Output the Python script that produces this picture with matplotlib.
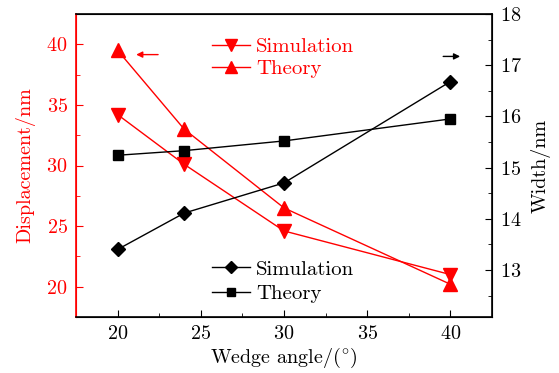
import matplotlib
matplotlib.use("Agg")
import matplotlib.pyplot as plt
from matplotlib.ticker import MultipleLocator

plt.rcParams['font.family'] = 'serif'
plt.rcParams['font.serif'] = ['cmr10', 'DejaVu Serif']
plt.rcParams['mathtext.fontset'] = 'cm'
plt.rcParams['axes.formatter.use_mathtext'] = True

# wedge angle (deg)
angles = [20, 24, 30, 40]

# displacement (nm), left axis
disp_sim = [34.2, 30.1, 24.6, 21.0]
disp_theory = [39.5, 33.0, 26.5, 20.2]

# width (nm), right axis
width_sim = [13.40, 14.11, 14.70, 16.68]
width_theory = [15.24, 15.33, 15.52, 15.95]

red = '#ff0000'
fs = 14.5

fig = plt.figure(figsize=(5.59, 3.73), dpi=100)
ax = fig.add_axes([76 / 559, 1 - 317 / 373, 416 / 559, 303 / 373])
ax2 = ax.twinx()

l1, = ax.plot(angles, disp_sim, color=red, lw=1, marker='v', ms=10)
l2, = ax.plot(angles, disp_theory, color=red, lw=1, marker='^', ms=10)
l3, = ax2.plot(angles, width_sim, color='k', lw=1, marker='D', ms=7.5)
l4, = ax2.plot(angles, width_theory, color='k', lw=1, marker='s', ms=7.5)

ax.set_xlim(17.5, 42.5)
ax.set_ylim(17.5, 42.5)
ax2.set_ylim(12.08, 18)

ax.xaxis.set_major_locator(MultipleLocator(5))
ax.xaxis.set_minor_locator(MultipleLocator(2.5))
ax.yaxis.set_major_locator(MultipleLocator(5))
ax.yaxis.set_minor_locator(MultipleLocator(2.5))
ax2.yaxis.set_major_locator(MultipleLocator(1))
ax2.yaxis.set_minor_locator(MultipleLocator(0.5))

ax.tick_params(axis='x', which='both', direction='in', top=False, labelsize=fs, pad=6)
ax.tick_params(axis='x', which='major', length=5)
ax.tick_params(axis='x', which='minor', length=3)
ax.tick_params(axis='y', which='both', direction='in', colors=red, labelsize=fs, pad=6)
ax.tick_params(axis='y', which='major', length=5)
ax.tick_params(axis='y', which='minor', length=3)
ax2.tick_params(axis='y', which='both', direction='in', labelsize=fs, pad=6)
ax2.tick_params(axis='y', which='major', length=5)
ax2.tick_params(axis='y', which='minor', length=3)

for s in ax2.spines.values():
    s.set_linewidth(1.2)
ax2.spines['left'].set_color(red)
ax.spines['left'].set_color(red)

ax.set_xlabel(r'Wedge angle/$(^{\circ})$', fontsize=fs, labelpad=2)
ax.set_ylabel('Displacement/nm', fontsize=fs, color=red, labelpad=8)
ax2.set_ylabel('Width/nm', fontsize=fs, labelpad=6)

leg1 = ax.legend([l1, l2], ['Simulation', 'Theory'], loc='upper left',
                 bbox_to_anchor=(0.283, 0.985), frameon=False, fontsize=15,
                 handlelength=1.8, handletextpad=0.3, labelspacing=0.18,
                 labelcolor=red, markerscale=0.9)
leg2 = ax2.legend([l3, l4], ['Simulation', 'Theory'], loc='lower left',
                  bbox_to_anchor=(0.283, -0.017), frameon=False, fontsize=15,
                  handlelength=1.8, handletextpad=0.3, labelspacing=0.3,
                  markerscale=0.8)

# arrows pointing at the axis each group belongs to
ax.annotate('', xy=(20.95, 39.15), xytext=(22.6, 39.15),
            arrowprops=dict(arrowstyle='-|>', color=red, lw=1, mutation_scale=9))
ax.annotate('', xy=(40.75, 39.0), xytext=(39.4, 39.0),
            arrowprops=dict(arrowstyle='-|>', color='k', lw=1, mutation_scale=9))

fig.savefig('out.png', dpi=100)
